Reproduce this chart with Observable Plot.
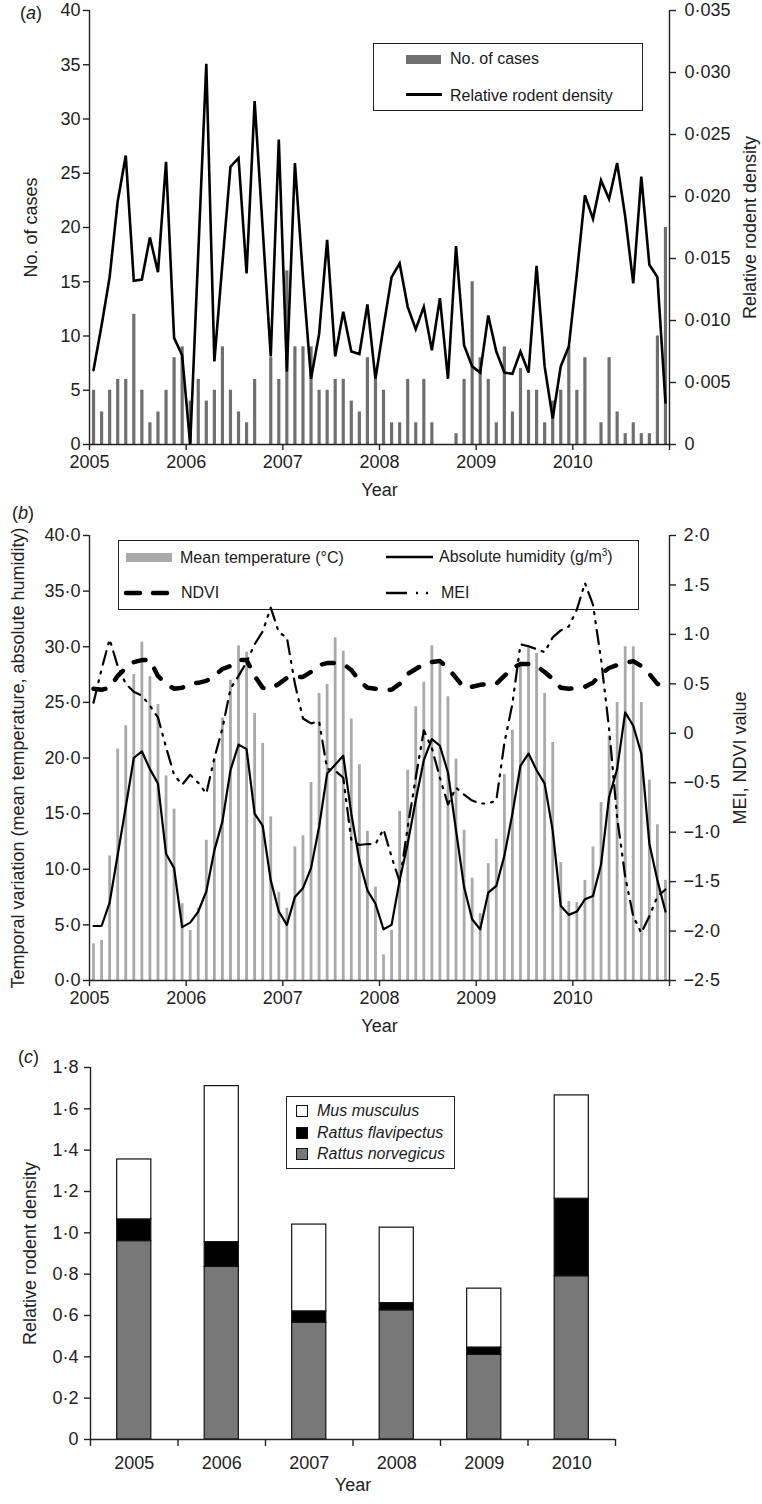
<!DOCTYPE html>
<html><head><meta charset="utf-8">
<script src="https://cdn.jsdelivr.net/npm/d3@7"></script>
<script src="https://cdn.jsdelivr.net/npm/@observablehq/plot@0.6"></script>
<style>
html,body{margin:0;padding:0;background:#fff;}
#page{position:relative;width:762px;height:1504px;font-family:"Liberation Sans",Arial,Helvetica,sans-serif;color:#1a1a1a;overflow:hidden;}
.box{position:absolute;border:1.5px solid #222;box-sizing:border-box;background:#fff;}
.lt{position:absolute;font-size:16px;line-height:16px;white-space:nowrap;}
.tag{position:absolute;font-size:18px;line-height:18px;}
.sw{position:absolute;overflow:visible;}
</style></head>
<body><div id="page"></div>
<script>
// ---------------- data ----------------
const years = [2005, 2006, 2007, 2008, 2009, 2010];

// Panel (a): monthly number of cases and relative rodent density
const cases = [
  5,3,5,6,6,12,5,2,3,5,8,9,
  4,6,4,5,9,5,3,2,6,0,8,6,
  16,9,9,9,5,5,6,6,4,3,8,6,
  5,2,2,6,2,6,2,0,0,1,6,15,
  8,6,2,9,3,7,5,5,2,4,5,9,
  5,8,0,2,8,3,1,2,1,1,10,20
];
const rodentDensity = [
  0.0060,0.0096,0.0135,0.0196,0.0233,0.0132,0.0133,0.0167,0.0139,0.0228,0.0086,0.0072,
  0.0000,0.0154,0.0307,0.0067,0.0146,0.0224,0.0231,0.0138,0.0277,0.0174,0.0071,0.0246,
  0.0059,0.0227,0.0135,0.0053,0.0089,0.0165,0.0071,0.0107,0.0075,0.0073,0.0113,0.0053,
  0.0095,0.0135,0.0146,0.0111,0.0093,0.0111,0.0076,0.0118,0.0053,0.0160,0.0080,0.0063,
  0.0058,0.0104,0.0075,0.0058,0.0057,0.0075,0.0058,0.0144,0.0063,0.0021,0.0063,0.0079,
  0.0138,0.0201,0.0182,0.0213,0.0198,0.0227,0.0184,0.0130,0.0216,0.0145,0.0135,0.0034
];
const caseTicks = [0, 5, 10, 15, 20, 25, 30, 35, 40];
const densityTicks = [0, 0.005, 0.010, 0.015, 0.020, 0.025, 0.030, 0.035];

// Panel (b): monthly climate series
const meanTemperature = [
  3.3,3.6,11.2,20.8,22.9,27.5,30.4,27.3,24.8,18.4,15.4,6.9,
  4.5,6.5,12.6,19.9,23.6,27.0,30.1,29.5,24.0,21.3,14.7,7.9,
  6.5,12.0,13.0,17.8,25.8,26.6,30.8,29.6,23.5,19.4,13.4,8.4,
  2.3,4.5,15.2,18.9,24.6,26.8,30.1,28.4,25.5,19.9,13.5,9.2,
  6.0,10.5,12.7,18.5,22.5,28.6,29.9,29.4,25.8,21.4,10.6,7.1,
  7.0,9.0,12.0,16.0,22.0,25.0,30.0,30.0,25.0,18.0,14.0,9.0
];
const absoluteHumidity = [
  4.9,4.9,7.0,11.3,15.6,20.0,20.6,19.0,17.7,11.4,10.1,4.8,
  5.2,6.2,8.0,11.7,14.3,18.9,21.2,20.8,15.0,13.9,9.0,6.2,
  5.0,7.5,8.3,10.1,13.8,18.6,19.4,20.2,15.0,10.8,8.1,6.9,
  4.6,5.0,9.0,12.3,16.2,19.8,21.7,21.1,18.7,13.5,8.4,5.5,
  4.6,7.9,8.5,11.2,15.0,19.3,20.4,18.9,17.7,13.5,6.7,5.9,
  6.2,7.3,7.6,10.4,16.5,19.0,24.1,22.9,20.4,12.3,9.0,6.2
];
const ndvi = [
  0.45,0.44,0.46,0.58,0.66,0.72,0.74,0.74,0.58,0.50,0.45,0.46,
  0.50,0.51,0.53,0.58,0.65,0.68,0.74,0.74,0.58,0.46,0.45,0.50,
  0.56,0.57,0.57,0.62,0.69,0.71,0.71,0.70,0.64,0.53,0.46,0.45,
  0.44,0.44,0.50,0.60,0.65,0.70,0.72,0.73,0.66,0.56,0.46,0.47,
  0.49,0.50,0.50,0.58,0.66,0.70,0.70,0.68,0.62,0.55,0.46,0.45,
  0.46,0.47,0.51,0.60,0.66,0.69,0.71,0.73,0.68,0.60,0.50,0.47
];
const mei = [
  0.31,0.65,0.95,0.68,0.50,0.42,0.38,0.28,0.16,-0.14,-0.42,-0.52,
  -0.42,-0.50,-0.61,-0.25,0.05,0.45,0.58,0.72,0.90,1.03,1.27,1.02,
  0.97,0.50,0.15,0.10,0.12,-0.36,-0.38,-0.45,-1.08,-1.13,-1.12,-1.12,
  -0.97,-1.25,-1.50,-0.95,-0.45,0.03,-0.15,-0.45,-0.72,-0.55,-0.62,-0.68,
  -0.71,-0.71,-0.68,-0.10,0.30,0.90,0.88,0.85,0.82,0.97,1.04,1.08,
  1.25,1.52,1.30,0.75,0.05,-0.85,-1.45,-1.85,-2.02,-1.85,-1.65,-1.58
];
const climateTicks = [0, 5, 10, 15, 20, 25, 30, 35, 40];
const indexTicks = [-2.5, -2, -1.5, -1, -0.5, 0, 0.5, 1, 1.5, 2];

// Panel (c): yearly relative rodent density by species
const species = ["Mus musculus", "Rattus flavipectus", "Rattus norvegicus"];
const musMusculus       = [0.29, 0.755, 0.42, 0.365, 0.285, 0.50];
const rattusFlavipectus = [0.105, 0.12, 0.055, 0.035, 0.035, 0.375];
const rattusNorvegicus  = [0.96, 0.835, 0.565, 0.625, 0.41, 0.79];
const speciesTicks = [0, 0.2, 0.4, 0.6, 0.8, 1.0, 1.2, 1.4, 1.6, 1.8];

// ---------------- helpers ----------------
const fontFamily = '"Liberation Sans", Arial, Helvetica, sans-serif';
const ink = "#222";
const baseStyle = {fontFamily, fontSize: "18px", color: ink, background: "transparent", overflow: "visible"};
const fmtDot = (v, digits) => Math.abs(v) < 1e-9 ? "0" :
  (v < 0 ? "\u2212" : "") + Math.abs(v).toFixed(digits).replace(".", "\u00B7");
const yearTicks = [...years, years[years.length - 1] + 1];
const xDomain = [yearTicks[0], yearTicks[yearTicks.length - 1]];
const monthly = cases.map((c, i) => ({
  t: years[0] + (i + 0.5) / 12,
  cases: c, density: rodentDensity[i],
  temp: meanTemperature[i], hum: absoluteHumidity[i], ndvi: ndvi[i], mei: mei[i]
}));
const page = document.getElementById("page");

// ---------------- legends & panel tags (behind the charts) ----------------
page.insertAdjacentHTML("beforeend", `
<div class="tag" style="left:20px;top:4px">(<i>a</i>)</div>
<div class="tag" style="left:12px;top:504px">(<i>b</i>)</div>
<div class="tag" style="left:18px;top:1048px">(<i>c</i>)</div>

<div class="box" style="left:373px;top:43px;width:270px;height:68px"></div>
<div style="position:absolute;left:406px;top:55px;width:35px;height:9px;background:#6f6f6f"></div>
<div class="lt" style="left:450px;top:51px">No. of cases</div>
<div style="position:absolute;left:406px;top:93px;width:36px;height:2.6px;background:#000"></div>
<div class="lt" style="left:450px;top:88px">Relative rodent density</div>

<div class="box" style="left:118px;top:540px;width:521px;height:70px"></div>
<div style="position:absolute;left:126px;top:553px;width:46px;height:9px;background:#a9a9a9"></div>
<div class="lt" style="left:180px;top:550px">Mean temperature (°C)</div>
<svg class="sw" width="50" height="10" style="left:123px;top:588px"><line x1="3" y1="5" x2="48" y2="5" stroke="#000" stroke-width="4.5" stroke-dasharray="14,13" stroke-linecap="round"/></svg>
<div class="lt" style="left:181px;top:585px">NDVI</div>
<svg class="sw" width="50" height="10" style="left:386px;top:552px"><line x1="0" y1="5" x2="47" y2="5" stroke="#000" stroke-width="2.5"/></svg>
<div class="lt" style="left:439px;top:549px">Absolute humidity (g/m<sup style="font-size:10px;line-height:0">3</sup>)</div>
<svg class="sw" width="50" height="10" style="left:386px;top:588px"><line x1="0" y1="5" x2="46" y2="5" stroke="#000" stroke-width="2.5" stroke-dasharray="21,9,2,8,2,9"/></svg>
<div class="lt" style="left:441px;top:585px">MEI</div>

<div class="box" style="left:286px;top:1096px;width:169px;height:73px"></div>
<div style="position:absolute;left:296px;top:1105px;width:12px;height:12px;box-sizing:border-box;border:1px solid #111;background:#fff"></div>
<div class="lt" style="left:317px;top:1103px;font-style:italic">${species[0]}</div>
<div style="position:absolute;left:296px;top:1127px;width:12px;height:12px;box-sizing:border-box;border:1px solid #111;background:#000"></div>
<div class="lt" style="left:317px;top:1125px;font-style:italic">${species[1]}</div>
<div style="position:absolute;left:296px;top:1148px;width:12px;height:12px;box-sizing:border-box;border:1px solid #111;background:#787878"></div>
<div class="lt" style="left:317px;top:1146px;font-style:italic">${species[2]}</div>
`);

function place(el, top) {
  el.style.position = "absolute";
  el.style.left = "0px";
  el.style.top = top + "px";
  page.appendChild(el);
}

// ---------------- panel (a) ----------------
const densityToCases = caseTicks[caseTicks.length - 1] / densityTicks[densityTicks.length - 1];
const yDomA = [caseTicks[0], caseTicks[caseTicks.length - 1]];
const plotA = Plot.plot({
  width: 762, height: 510,
  marginTop: 10, marginBottom: 66, marginLeft: 89, marginRight: 93,
  style: baseStyle,
  x: {domain: xDomain, axis: null},
  y: {domain: yDomA, axis: null},
  marks: [
    Plot.ruleX(monthly, {x: "t", y1: 0, y2: "cases", stroke: "#6f6f6f", strokeWidth: 3.2}),
    Plot.line(monthly, {x: "t", y: d => d.density * densityToCases, stroke: "#000", strokeWidth: 2.6, strokeLinejoin: "miter", strokeMiterlimit: 4}),
    Plot.ruleX(xDomain, {y1: yDomA[0], y2: yDomA[1], stroke: ink, strokeWidth: 1.4}),
    Plot.ruleY([yDomA[0]], {x1: xDomain[0], x2: xDomain[1], stroke: ink, strokeWidth: 1.4}),
    Plot.axisX({ticks: yearTicks, tickFormat: d => years.includes(d) ? String(d) : "", tickSize: 6, tickPadding: 5, strokeWidth: 1.4, label: null}),
    Plot.axisY({ticks: caseTicks, tickFormat: d => String(d), tickSize: 6, tickPadding: 3, strokeWidth: 1.4, label: null}),
    Plot.axisY({anchor: "right", ticks: densityTicks.map(v => v * densityToCases), tickFormat: d => fmtDot(d / densityToCases, 3), tickSize: 6, tickPadding: 9, strokeWidth: 1.4, label: null}),
    Plot.text(["Year"], {frameAnchor: "bottom", dy: 51}),
    Plot.text(["No. of cases"], {frameAnchor: "left", dx: -58, rotate: -90, textAnchor: "middle"}),
    Plot.text(["Relative rodent density"], {frameAnchor: "right", dx: 81, rotate: -90, textAnchor: "middle"})
  ]
});
place(plotA, 0);

// ---------------- panel (b) ----------------
const yDomB = [climateTicks[0], climateTicks[climateTicks.length - 1]];
const idxMin = indexTicks[0], idxMax = indexTicks[indexTicks.length - 1];
const toLeft = r => (r - idxMin) * (yDomB[1] - yDomB[0]) / (idxMax - idxMin) + yDomB[0];
const fromLeft = v => (v - yDomB[0]) * (idxMax - idxMin) / (yDomB[1] - yDomB[0]) + idxMin;
const plotB = Plot.plot({
  width: 762, height: 550,
  marginTop: 35, marginBottom: 70, marginLeft: 89, marginRight: 93,
  style: baseStyle,
  x: {domain: xDomain, axis: null},
  y: {domain: yDomB, axis: null},
  marks: [
    Plot.ruleX(monthly, {x: "t", y1: 0, y2: "temp", stroke: "#a9a9a9", strokeWidth: 2.8}),
    Plot.line(monthly, {x: "t", y: d => toLeft(d.ndvi), stroke: "#000", strokeWidth: 4.5, strokeDasharray: "12,14", strokeLinecap: "round"}),
    Plot.line(monthly, {x: "t", y: "hum", stroke: "#000", strokeWidth: 2.2}),
    Plot.line(monthly, {x: "t", y: d => toLeft(d.mei), stroke: "#000", strokeWidth: 2.2, strokeDasharray: "14,7,2,7,2,7"}),
    Plot.ruleX(xDomain, {y1: yDomB[0], y2: yDomB[1], stroke: ink, strokeWidth: 1.4}),
    Plot.ruleY([yDomB[0]], {x1: xDomain[0], x2: xDomain[1], stroke: ink, strokeWidth: 1.4}),
    Plot.axisX({ticks: yearTicks, tickFormat: d => years.includes(d) ? String(d) : "", tickSize: 6, tickPadding: 5, strokeWidth: 1.4, label: null}),
    Plot.axisY({ticks: climateTicks, tickFormat: d => d.toFixed(1).replace(".", "\u00B7"), tickSize: 6, tickPadding: 3, strokeWidth: 1.4, label: null}),
    Plot.axisY({anchor: "right", ticks: indexTicks.map(toLeft), tickFormat: d => fmtDot(fromLeft(d), 1), tickSize: 6, tickPadding: 8, strokeWidth: 1.4, label: null}),
    Plot.text(["Year"], {frameAnchor: "bottom", dy: 51}),
    Plot.text(["Temporal variation (mean temperature, absolute humidity)"], {frameAnchor: "left", dx: -71, rotate: -90, textAnchor: "middle"}),
    Plot.text(["MEI, NDVI value"], {frameAnchor: "right", dx: 71, rotate: -90, textAnchor: "middle"})
  ]
});
place(plotB, 500);

// ---------------- panel (c) ----------------
const stackRows = [];
years.forEach((yr, i) => {
  let base = 0;
  [[species[2], rattusNorvegicus[i]], [species[1], rattusFlavipectus[i]], [species[0], musMusculus[i]]]
    .forEach(([sp, v]) => { stackRows.push({i, year: yr, species: sp, y1: base, y2: base + v}); base += v; });
});
const halfBar = 0.195;
const yDomC = [speciesTicks[0], speciesTicks[speciesTicks.length - 1]];
const catBounds = d3.range(years.length + 1);
const catCenters = years.map((_, i) => i + 0.5);
const plotC = Plot.plot({
  width: 762, height: 464,
  marginTop: 27, marginBottom: 65, marginLeft: 90, marginRight: 147,
  style: baseStyle,
  x: {domain: [0, years.length], axis: null},
  y: {domain: yDomC, axis: null},
  color: {domain: species, range: ["#ffffff", "#000000", "#787878"]},
  marks: [
    Plot.rect(stackRows, {x1: d => d.i + 0.5 - halfBar, x2: d => d.i + 0.5 + halfBar, y1: "y1", y2: "y2", fill: "species", stroke: "#111", strokeWidth: 1.2}),
    Plot.ruleX([0], {y1: yDomC[0], y2: yDomC[1], stroke: ink, strokeWidth: 1.4}),
    Plot.ruleY([yDomC[0]], {x1: 0, x2: years.length, stroke: ink, strokeWidth: 1.4}),
    Plot.axisX({ticks: catBounds, tickFormat: () => "", tickSize: 7, strokeWidth: 1.4, label: null}),
    Plot.axisX({ticks: catCenters, tickFormat: d => String(years[Math.floor(d)]), tickSize: 0, tickPadding: 17, label: null}),
    Plot.axisY({ticks: speciesTicks, tickFormat: d => fmtDot(d, 1), tickSize: 6, tickPadding: 6, strokeWidth: 1.4, label: null}),
    Plot.text(["Year"], {frameAnchor: "bottom", dy: 51}),
    Plot.text(["Relative rodent density"], {frameAnchor: "left", dx: -60, rotate: -90, textAnchor: "middle"})
  ]
});
place(plotC, 1040);
</script></body></html>
